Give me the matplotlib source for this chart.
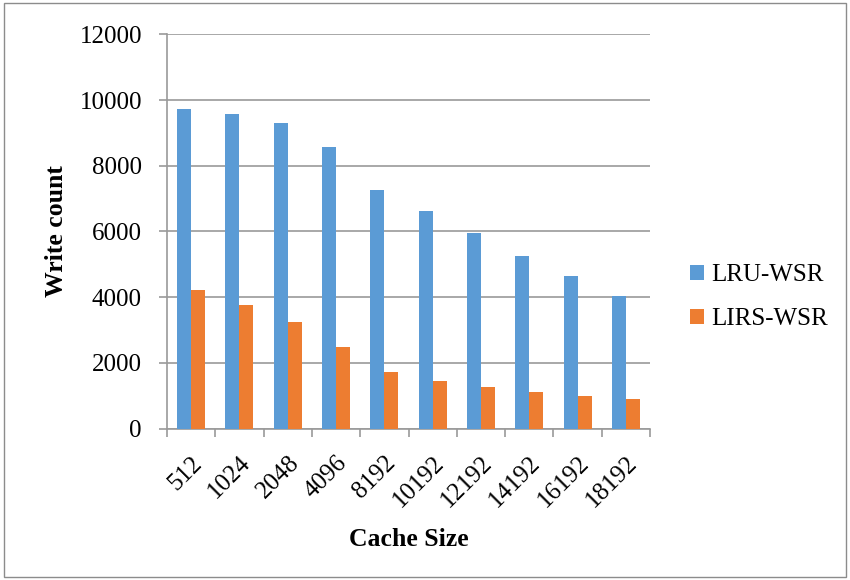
import matplotlib
matplotlib.use("Agg")
import matplotlib.pyplot as plt
import numpy as np
from matplotlib.patches import Rectangle

cache_sizes = ["512", "1024", "2048", "4096", "8192", "10192", "12192", "14192", "16192", "18192"]
lru_wsr = [9730, 9575, 9290, 8580, 7260, 6620, 5960, 5260, 4650, 4025]
lirs_wsr = [4210, 3755, 3245, 2485, 1725, 1460, 1260, 1105, 985, 890]
series_names = ["LRU-WSR", "LIRS-WSR"]
colors = ["#5B9BD5", "#ED7D31"]

plt.rcParams["font.family"] = ["Liberation Serif", "DejaVu Serif"]

fig = plt.figure(figsize=(8.5, 5.8), dpi=100)
ax = fig.add_axes([167 / 850, 1 - 428.5 / 580, (650 - 167) / 850, (428.5 - 34.3) / 580])

x = np.arange(len(cache_sizes))
w = 0.29
ax.bar(x - w / 2, lru_wsr, width=w, color=colors[0], label=series_names[0], zorder=3)
ax.bar(x + w / 2, lirs_wsr, width=w, color=colors[1], label=series_names[1], zorder=3)

ax.set_xlim(-0.5, len(cache_sizes) - 0.5)
ax.set_ylim(0, 12000)
ax.set_yticks(np.arange(0, 12001, 2000))
ax.yaxis.grid(True, color="#9A9A9A", linewidth=1.2, zorder=0)
ax.set_axisbelow(True)

for s in ["top", "right"]:
    ax.spines[s].set_visible(False)
ax.spines["left"].set_color("#9A9A9A")
ax.spines["bottom"].set_color("#9A9A9A")
ax.spines["left"].set_linewidth(1.2)
ax.spines["bottom"].set_linewidth(1.2)

ax.tick_params(axis="y", length=6, color="#9A9A9A", width=1.2, labelsize=18, pad=12)
ax.set_xticks(np.arange(-0.5, len(cache_sizes), 1.0), minor=False)
ax.set_xticklabels([])
ax.set_xticks(x, minor=True)
ax.set_xticklabels(cache_sizes, minor=True, rotation=45, ha="right",
                   rotation_mode="anchor", fontsize=18)
ax.tick_params(axis="x", which="major", length=6, color="#9A9A9A", width=1.2)
ax.tick_params(axis="x", which="minor", length=0, pad=17)

ax.set_ylabel("Write count", fontsize=18.5, fontweight="bold", labelpad=8)
ax.set_xlabel("Cache Size", fontsize=18.5, fontweight="bold", labelpad=12)

ax.legend(loc="center left", bbox_to_anchor=(1.036, 0.333), frameon=False,
          fontsize=18, handlelength=0.55, handleheight=0.55, labelspacing=0.88,
          handletextpad=0.3, borderaxespad=0.5)

fig.patches.append(Rectangle((4 / 850, 3 / 580), 842 / 850, 574 / 580,
                             transform=fig.transFigure, fill=False,
                             edgecolor="#8C8C8C", linewidth=1))

fig.savefig("out.png", dpi=100)
